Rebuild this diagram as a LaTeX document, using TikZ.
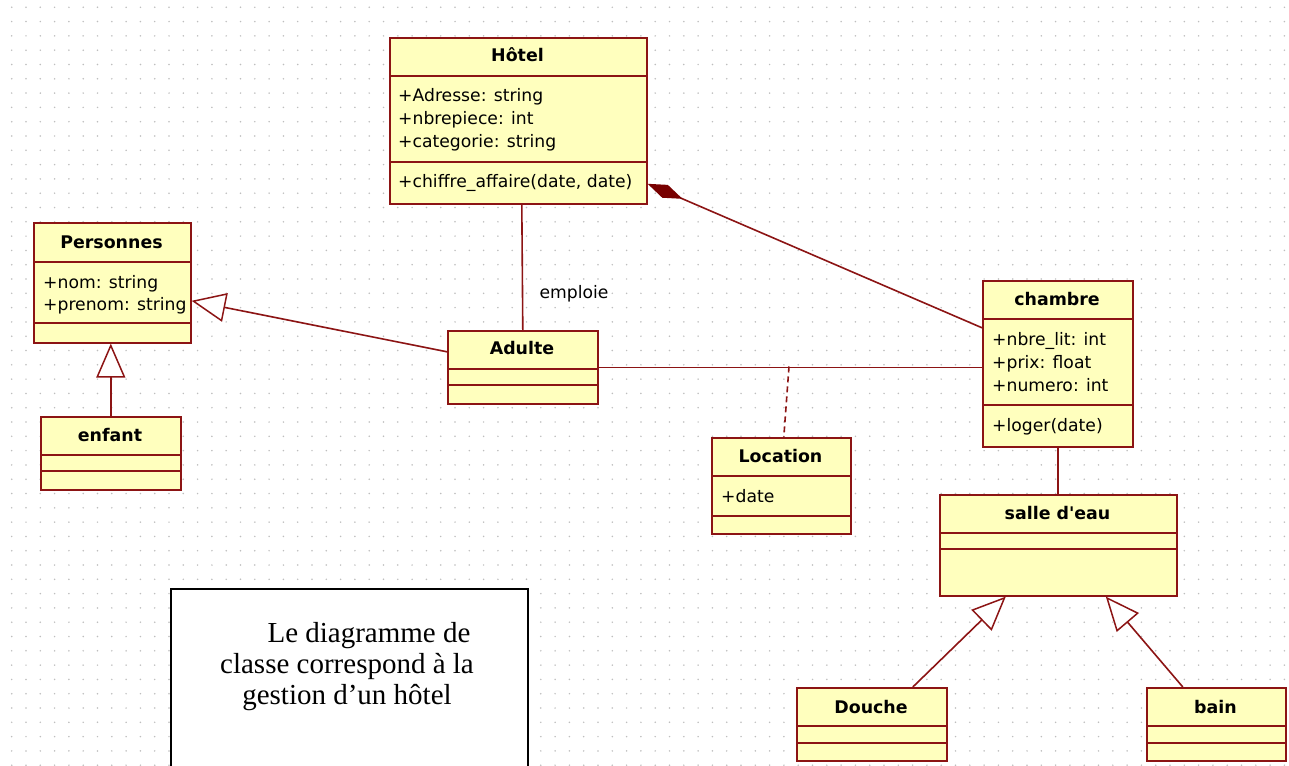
\documentclass[tikz,border=0pt]{standalone}
\usepackage{fontspec}
\setmainfont{DejaVu Sans}
\newfontfamily\plainsans{DejaVu Sans}[Ligatures=TeXOff]
\newfontfamily\notefont{Liberation Serif}
\usetikzlibrary{arrows.meta,calc}
\definecolor{umlred}{RGB}{140,20,20}
\definecolor{umlfill}{RGB}{255,255,190}
\definecolor{dotc}{RGB}{190,190,190}
\definecolor{diamc}{RGB}{120,0,0}
\newcommand{\umlcls}[7]{%
  \node[cls, minimum width=#4pt, minimum height=#5pt] (#1) at (#2,#3) {};
  \draw[sepline] (#2,#6) -- ({#2+#4},#6);
  \draw[sepline] (#2,#7) -- ({#2+#4},#7);}
\begin{document}
\begin{tikzpicture}[x=1pt,y=-1pt,
  cls/.style={draw=umlred, fill=umlfill, line width=1.6pt, rectangle, inner sep=0pt, anchor=north west},
  sepline/.style={draw=umlred, line width=1.6pt},
  ttl/.style={font=\fontsize{17.4}{20}\selectfont\bfseries, inner sep=0pt, anchor=base},
  attr/.style={font=\fontsize{17.2}{20}\selectfont, inner sep=0pt, anchor=base west},
  conn/.style={draw=umlred, line width=1.6pt},
  gen/.style={conn, -{Triangle[length=34pt,width=29pt,fill=white,line width=1.5pt]}},
  comp/.style={conn, {Diamond[length=38pt,width=14pt,fill=diamc,color=diamc]}-},
  assocdash/.style={conn, dashed, dash pattern=on 6pt off 4pt}
]
\fill[white] (0,0) rectangle (1289,765);
\useasboundingbox (0,0) rectangle (1289,765);
% grid dots
\foreach \i in {0,...,89}{
  \foreach \j in {0,...,53}{
    \fill[dotc] ({11.7+14.3*\i},{7.3+14.3*\j}) circle (0.85pt);
  }
}
% classes
\umlcls{hotel}{389}{37}{257}{166}{76}{162}
\umlcls{pers}{33}{222}{157}{120}{262}{323}
\umlcls{enfant}{40}{416}{140}{73}{455}{471}
\umlcls{adulte}{447}{330}{150}{73}{369}{385}
\umlcls{chambre}{982}{280}{150}{166}{319}{405}
\umlcls{location}{711}{437}{139}{96}{476}{516}
\umlcls{salle}{939}{494}{237}{101}{533}{549}
\umlcls{douche}{796}{687}{150}{73}{726}{743}
\umlcls{bain}{1146}{687}{139}{73}{726}{743}
% titles
\node[ttl] (thotel) at (517.5,62) {Hôtel};
\node[ttl] (tpers) at (111.5,248) {Personnes};
\node[ttl] (tenfant) at (110,441) {enfant};
\node[ttl] (tadulte) at (522,354) {Adulte};
\node[ttl] (tchambre) at (1057,305) {chambre};
\node[ttl] (tlocation) at (780.5,462) {Location};
\node[ttl] (tsalle) at (1057.5,519) {\plainsans\bfseries salle d'eau};
\node[ttl] (tdouche) at (871,713) {Douche};
\node[ttl] (tbain) at (1215.5,713) {bain};
% attributes and operations
\node[attr] (h1) at (398,102) {+Adresse: string};
\node[attr] (h2) at (398,124.5) {+nbrepiece: int};
\node[attr] (h3) at (398,147) {+categorie: string};
\node[attr] (h4) at (398,187) {+chiffre\_affaire(date, date)};
\node[attr] (p1) at (43,288) {+nom: string};
\node[attr] (p2) at (43,310) {+prenom: string};
\node[attr] (c1) at (992,345) {+nbre\_lit: int};
\node[attr] (c2) at (992,368) {+prix: float};
\node[attr] (c3) at (992,391) {+numero: int};
\node[attr] (c4) at (992,431) {+loger(date)};
\node[attr] (l1) at (721,502) {+date};
% connectors
\draw[conn] ([xshift=3.5pt]hotel.south) -- (adulte.north);
\node[font=\fontsize{17.2}{20}\selectfont, inner sep=0pt, anchor=base] (emploie) at (574,298) {emploie};
\draw[gen] ([yshift=15.5pt]adulte.west) -- ([yshift=-18pt]pers.east);
\draw[gen] (enfant.north) -- (enfant.north |- pers.south);
\draw[comp] ([yshift=-63pt]hotel.east) -- ([yshift=36pt]chambre.west);
\draw[conn] (adulte.east) -- (adulte.east -| chambre.west);
\coordinate (assocmid) at (789,366.5);
\draw[assocdash] (assocmid) -- ([xshift=2.5pt]location.north);
\draw[conn] (chambre.south) -- (chambre.south |- salle.north);
\draw[gen] ([xshift=41pt]douche.north) -- ([xshift=-52.5pt]salle.south);
\draw[gen] ([xshift=-33.5pt]bain.north) -- ([xshift=47.5pt]salle.south);
% note
\node[draw=black, line width=1.5pt, fill=white, minimum width=357pt, minimum height=182pt, anchor=north west, inner sep=0pt] (note) at (170,588) {};
\node[font=\notefont\fontsize{29}{31}\selectfont, align=center, inner sep=0pt, anchor=north] (notetext) at (347,622) {\hspace*{44pt}Le diagramme de\\classe correspond à la\\gestion d’un hôtel};
\end{tikzpicture}
\end{document}
